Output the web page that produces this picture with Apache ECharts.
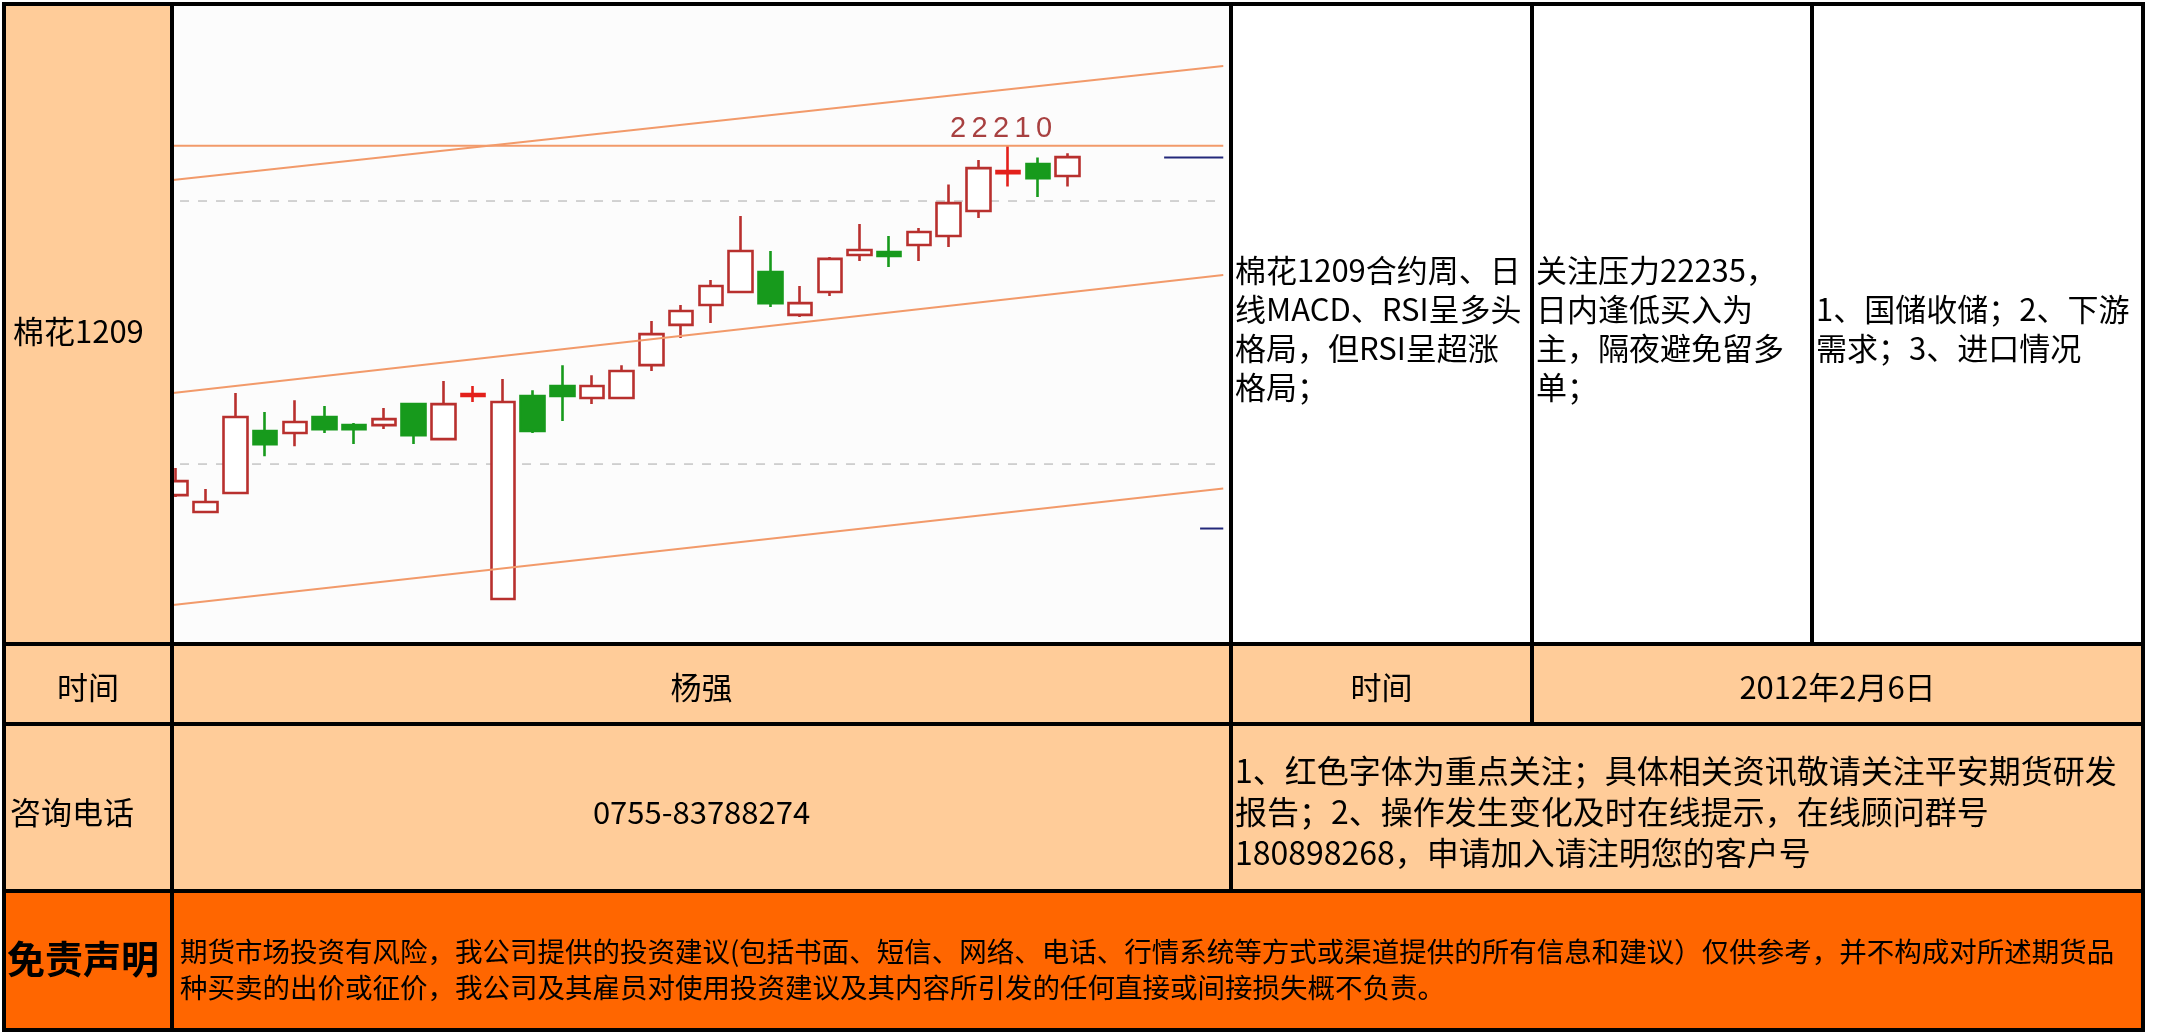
<!DOCTYPE html>
<html><head><meta charset="utf-8">
<script src="https://cdn.jsdelivr.net/npm/echarts@6/dist/echarts.min.js"></script>
<style>html,body{margin:0;padding:0;background:#fff}#c{width:2157px;height:1033px}</style>
</head><body><div id="c"></div>
<script>
// ---------- data ----------
const categories = ['1','2','3','4','5','6','7','8','9','10','11','12','13','14','15','16','17','18','19','20','21','22','23','24','25','26','27','28','29','30','31','32','33','34','35','36'];
// [open, close, low, high]
const candles = [
  [20882,20935,20875,20985],[20818,20856,20815,20905],[20890,21179,20885,21270],[21126,21076,21030,21198],
  [21118,21160,21068,21243],[21179,21133,21118,21221],[21148,21133,21076,21156],[21148,21171,21133,21213],
  [21228,21110,21076,21232],[21095,21228,21090,21316],[21259,21266,21236,21297],[20487,21236,20485,21323],
  [21259,21126,21118,21281],[21297,21259,21164,21376],[21251,21297,21228,21338],[21251,21354,21248,21376],
  [21376,21494,21354,21544],[21529,21582,21479,21605],[21605,21677,21536,21700],[21654,21810,21650,21943],
  [21730,21612,21597,21810],[21567,21612,21559,21677],[21654,21780,21639,21787],[21795,21814,21772,21913],
  [21806,21791,21749,21867],[21833,21882,21772,21897],[21867,21992,21825,22063],[21962,22125,21935,22156],
  [22106,22114,22055,22210],[22141,22087,22015,22165],[22095,22167,22055,22182]
];
const gridLevels = [21000, 22000];
const resistanceLevel = 22210;
const channelUpper = [[-0.1,22080],[35.24,22513]];
const channelMiddle = [[-0.1,21270],[35.24,21719]];
const channelLower = [[-0.1,20464],[35.24,20907]];
const navyMarkHigh = [[33.25,22165],[35.24,22165]];
const navyMarkLow = [[34.46,20755],[35.24,20755]];

const productName = '棉花1209';
const analysisLines = ['棉花1209合约周、日','线MACD、RSI呈多头','格局，但RSI呈超涨','格局；'];
const strategyLines = ['关注压力22235，','日内逢低买入为','主，隔夜避免留多','单；'];
const factorLines = ['1、国储收储；2、下游','需求；3、进口情况'];
const row2Texts = ['时间','杨强','时间','2012年2月6日'];
const row3Texts = ['咨询电话','0755-83788274'];
const noteLines = ['1、红色字体为重点关注；具体相关资讯敬请关注平安期货研发','报告；2、操作发生变化及时在线提示，在线顾问群号','180898268，申请加入请注明您的客户号'];
const disclaimerTitle = '免责声明';
const disclaimerLines = ['期货市场投资有风险，我公司提供的投资建议(包括书面、短信、网络、电话、行情系统等方式或渠道提供的所有信息和建议）仅供参考，并不构成对所述期货品','种买卖的出价或征价，我公司及其雇员对使用投资建议及其内容所引发的任何直接或间接损失概不负责。'];

// ---------- layout / style ----------
const FONT = '"Noto Sans CJK SC"';
const PEACH = '#FFCC99', ORANGE = '#FF6600';
const X = [4, 172, 1231, 1532, 1812, 2143];
const Y = [4, 644, 724, 891, 1030];

const g = [];
function rect(x1,y1,x2,y2,fill,z){ g.push({type:'rect', z:z, silent:true, shape:{x:x1,y:y1,width:x2-x1,height:y2-y1}, style:{fill:fill}}); }
function hline(y,x1,x2){ g.push({type:'line', z:30, silent:true, shape:{x1:x1-2,y1:y,x2:x2+2,y2:y}, style:{stroke:'#000',lineWidth:4}}); }
function vline(x,y1,y2){ g.push({type:'line', z:30, silent:true, shape:{x1:x,y1:y1-2,x2:x,y2:y2+2}, style:{stroke:'#000',lineWidth:4}}); }
function text(str,x,y,size,align,lh,weight){
  g.push({type:'text', z:40, silent:true, style:{text:str, x:x, y:y, fill:'#000',
    font:(weight||'normal')+' '+size+'px '+FONT, align:align, verticalAlign:'middle',
    textAlign:align, textVerticalAlign:'middle', lineHeight:lh||size*1.25}});
}
// backgrounds
rect(X[0],Y[0],X[1],Y[1],PEACH,10);            // product cell (covers chart overflow)
rect(X[1],Y[0],X[2],Y[1],'#fcfcfc',0);         // chart cell
rect(X[2],Y[0],X[5],Y[1],'#ffffff',10);
rect(X[0],Y[1],X[5],Y[3],PEACH,10);
rect(X[0],Y[3],X[5],Y[4],ORANGE,10);
// borders
[Y[0],Y[1],Y[2],Y[3],Y[4]].forEach(y=>hline(y,X[0],X[5]));
vline(X[0],Y[0],Y[4]); vline(X[1],Y[0],Y[4]); vline(X[2],Y[0],Y[3]);
vline(X[3],Y[0],Y[2]); vline(X[4],Y[0],Y[1]); vline(X[5],Y[0],Y[4]);
// texts
text(productName,13,331,31,'left');
text(analysisLines.join('\n'),1235,329,31,'left',39);
text(strategyLines.join('\n'),1536,329,31,'left',39);
text(factorLines.join('\n'),1816,329,31,'left',39);
text(row2Texts[0],(X[0]+X[1])/2,687,31,'center');
text(row2Texts[1],(X[1]+X[2])/2,687,31,'center');
text(row2Texts[2],(X[2]+X[3])/2,687,31,'center');
text(row2Texts[3],(X[3]+X[5])/2,687,31,'center');
text(row3Texts[0],10,812,31,'left');
text(row3Texts[1],(X[1]+X[2])/2,812,31,'center');
text(noteLines.join('\n'),1235,812,32,'left',41);
text(disclaimerTitle,7,959,38,'left',null,'bold');
text(disclaimerLines.join('\n'),180,970,27.5,'left',36);

// ---------- chart ----------
const UP = '#b8302e', DOWN = '#179a1c', DOJI = '#e3201b', CHANNEL = '#f29a6a';
const candleData = candles.map(c => {
  const item = {value: c};
  if (c[1] > c[0] && c[1] - c[0] < 12) item.itemStyle = {color: DOJI, borderColor: DOJI};
  return item;
});
const highs = candles.map(c => c[3]);
const peakIdx = highs.indexOf(Math.max(...highs));

function lineSeries(data, color, width, type, z){
  return {type:'line', xAxisIndex:1, data:data, symbol:'none', silent:true, animation:false,
    lineStyle:{color:color, width:width, type:type||'solid'}, z:z};
}

const series = [];
gridLevels.forEach(l => series.push(lineSeries([[0.14,l],[35.24,l]], '#c4c4c4', 1.5, [9,9], 1)));
series.push(lineSeries(channelUpper, CHANNEL, 2, 'solid', 5));
series.push(lineSeries(channelMiddle, CHANNEL, 2, 'solid', 5));
series.push(lineSeries(channelLower, CHANNEL, 2, 'solid', 5));
series.push(lineSeries([[-0.1,resistanceLevel],[35.24,resistanceLevel]], CHANNEL, 2, 'solid', 5));
series.push(lineSeries(navyMarkHigh, '#23287a', 2, 'solid', 5));
series.push(lineSeries(navyMarkLow, '#23287a', 2, 'solid', 5));
const digitRich = {d:{fontSize:29, width:21.5, align:'center', color:'#a84040', fontFamily:'Liberation Sans'}};
series.push({
  type:'candlestick', xAxisIndex:0, data:candleData, barWidth:24, z:3,
  itemStyle:{color:'#ffffff', color0:DOWN, borderColor:UP, borderColor0:DOWN, borderWidth:2.6},
  markPoint:{symbol:'circle', symbolSize:1, itemStyle:{color:'rgba(0,0,0,0)'},
    data:[{coord:[peakIdx, highs[peakIdx]], value:highs[peakIdx]}],
    label:{show:true, position:'top', distance:2, offset:[-7,0], fontSize:29,
      formatter:p=>String(p.value).split('').map(ch=>'{d|'+ch+'}').join(''),
      rich:digitRich}}
});

const chart = echarts.init(document.getElementById('c'), null, {renderer:'canvas'});
chart.setOption({
  animation:false,
  backgroundColor:'#ffffff',
  grid:{left:161, right:926, top:4, bottom:389},
  xAxis:[
    {type:'category', data:categories, boundaryGap:true, show:false},
    {type:'value', min:-0.5, max:35.5, show:false}
  ],
  yAxis:{type:'value', min:20316, max:22749, show:false, splitLine:{show:false}},
  series:series,
  graphic:{elements:g}
});
</script></body></html>
